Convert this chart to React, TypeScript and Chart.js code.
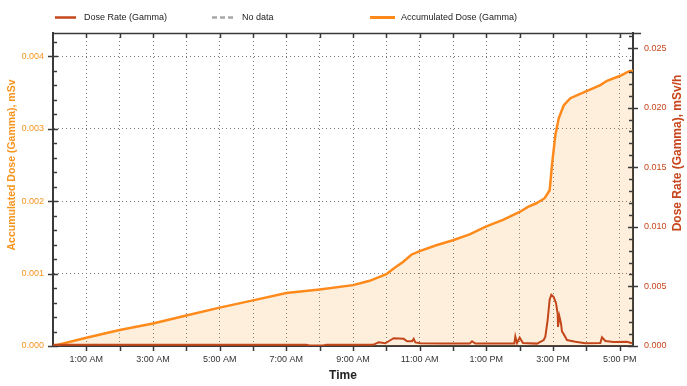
import { useEffect, useRef } from "react";
import { Chart, registerables } from "chart.js";
Chart.register(...registerables);

// Accumulated dose (Gamma), mSv — hours after midnight
const accumHours = [0, 1, 2, 3, 4, 5, 6, 7, 8, 9, 9.33, 9.5, 10, 10.25, 10.5, 10.75, 11, 11.5, 12, 12.5, 13, 13.5, 14, 14.25, 14.5, 14.75, 14.9, 14.97, 15.07, 15.17, 15.32, 15.52, 15.92, 16.42, 16.62, 17.02, 17.27, 17.4];
const accumValues = [0, 0.000115, 0.00022, 0.00031, 0.00042, 0.00053, 0.00063, 0.00073, 0.00078, 0.00084, 0.00088, 0.0009, 0.00099, 0.00108, 0.00116, 0.00126, 0.00131, 0.00139, 0.00146, 0.00154, 0.00165, 0.00174, 0.00185, 0.00192, 0.00197, 0.00204, 0.00215, 0.0025, 0.00291, 0.00314, 0.00332, 0.00342, 0.0035, 0.0036, 0.00366, 0.00373, 0.00379, 0.0038];

// Dose rate (Gamma), mSv/h
const rateHours = [0, 2, 4, 6, 7.6, 7.7, 8.1, 8.2, 9.6, 9.77, 9.97, 10.07, 10.22, 10.52, 10.62, 10.77, 10.82, 10.87, 11.02, 11.72, 12.5, 12.57, 12.67, 13.84, 13.87, 13.92, 14.0, 14.1, 14.52, 14.72, 14.77, 14.84, 14.9, 14.95, 15.02, 15.09, 15.14, 15.15, 15.19, 15.24, 15.27, 15.3, 15.42, 15.67, 15.97, 16.42, 16.47, 16.57, 16.82, 17.22, 17.37];
const rateValues = [0.0001, 0.0001, 0.0001, 0.0001, 0.0001, 0.00005, 0.00005, 0.0001, 0.0001, 0.00031, 0.00023, 0.0004, 0.00065, 0.0006, 0.0004, 0.0004, 0.0006, 0.0003, 0.00023, 0.00022, 0.0002, 0.0004, 0.0002, 0.0002, 0.0008, 0.00025, 0.0007, 0.00025, 0.0002, 0.0005, 0.00078, 0.0022, 0.0039, 0.0043, 0.0041, 0.0036, 0.0027, 0.0016, 0.0025, 0.0019, 0.0012, 0.0011, 0.0005, 0.00036, 0.00023, 0.00025, 0.00073, 0.00042, 0.00034, 0.00036, 0.00023];

const xLabelHours = [1, 3, 5, 7, 9, 11, 13, 15, 17];
const xLabels = ["1:00 AM", "3:00 AM", "5:00 AM", "7:00 AM", "9:00 AM", "11:00 AM", "1:00 PM", "3:00 PM", "5:00 PM"];

const legendLabels = ["Dose Rate (Gamma)", "No data", "Accumulated Dose (Gamma)"];
const leftTitle = "Accumulated Dose (Gamma), mSv";
const rightTitle = "Dose Rate (Gamma), mSv/h";
const xTitle = "Time";

const ORANGE = "#ff8a1c";
const RATE = "#c4471b";
const LEFT_TXT = "#f7941d";
const RIGHT_TXT = "#c8461e";
const AXIS = "#3a3a3a";
const GRID = "#7a7a7a";
const FONT = "'Liberation Sans', Arial, sans-serif";

const isMult = (v: number, step: number) => Math.abs(v / step - Math.round(v / step)) < 1e-6;

const decoPlugin = {
  id: "deco",
  afterDraw(chart: any) {
    const { ctx, chartArea: a, scales } = chart;
    ctx.save();
    const ln = (x1: number, y1: number, x2: number, y2: number, w = 1) => {
      ctx.lineWidth = w;
      ctx.beginPath();
      ctx.moveTo(x1, y1);
      ctx.lineTo(x2, y2);
      ctx.stroke();
    };
    ctx.strokeStyle = AXIS;
    ln(a.left, a.top + 0.5, a.right + 8, a.top + 0.5, 1.5);
    scales.x.ticks.forEach((t: any) => {
      const px = Math.round(scales.x.getPixelForValue(t.value)) + 0.5;
      if (t.value <= 0) return;
      ln(px, a.bottom, px, a.bottom + 5, 1.5);
      ln(px, a.top, px, a.top + 5, 1.5);
    });
    scales.y.ticks.forEach((t: any) => {
      const py = Math.round(scales.y.getPixelForValue(t.value)) + 0.5;
      if (isMult(t.value, 0.001)) ln(a.left - 5, py, a.left + 5, py, 1.5);
      else ln(a.left, py, a.left + 4, py, 1.5);
    });
    scales.y1.ticks.forEach((t: any) => {
      const py = Math.round(scales.y1.getPixelForValue(t.value)) + 0.5;
      if (isMult(t.value, 0.005)) ln(a.right - 5, py, a.right + 5, py, 1.5);
      else ln(a.right - 4, py, a.right, py, 1.5);
    });

    // legend
    const ly = 17.5;
    ctx.font = `9px ${FONT}`;
    ctx.textBaseline = "middle";
    ctx.fillStyle = "#222";
    ctx.strokeStyle = RATE;
    ln(55, ly, 76, ly, 2.5);
    ctx.fillText(legendLabels[0], 84, ly);
    ctx.strokeStyle = "#a8a8a8";
    ctx.setLineDash([5, 3]);
    ln(212, ly, 236, ly, 2.5);
    ctx.setLineDash([]);
    ctx.fillText(legendLabels[1], 242, ly);
    ctx.strokeStyle = ORANGE;
    ln(370, ly, 395, ly, 3);
    ctx.fillText(legendLabels[2], 401, ly);

    // y titles
    ctx.textAlign = "center";
    ctx.save();
    ctx.translate(12, 165);
    ctx.rotate(-Math.PI / 2);
    ctx.font = `bold 10.5px ${FONT}`;
    ctx.fillStyle = LEFT_TXT;
    ctx.fillText(leftTitle, 0, 0);
    ctx.restore();
    ctx.save();
    ctx.translate(678, 153);
    ctx.rotate(-Math.PI / 2);
    ctx.font = `bold 12px ${FONT}`;
    ctx.fillStyle = RIGHT_TXT;
    ctx.fillText(rightTitle, 0, 0);
    ctx.restore();
    ctx.restore();
  },
};

export default function App() {
  const ref = useRef<HTMLCanvasElement>(null);
  useEffect(() => {
    document.body.style.margin = "0";
    const accum = accumHours.map((h, i) => ({ x: h, y: accumValues[i] }));
    const rate = rateHours.map((h, i) => ({ x: h, y: rateValues[i] }));
    const chart = new Chart(ref.current!, {
      type: "line",
      data: {
        datasets: [
          {
            label: legendLabels[0],
            data: rate,
            yAxisID: "y1",
            borderColor: RATE,
            borderWidth: 2,
            pointRadius: 0,
            tension: 0,
            fill: false,
          },
          {
            label: legendLabels[2],
            data: accum,
            yAxisID: "y",
            borderColor: ORANGE,
            borderWidth: 2.5,
            backgroundColor: "rgba(247,148,29,0.15)",
            pointRadius: 0,
            tension: 0,
            fill: "origin",
          },
        ],
      },
      options: {
        animation: false,
        responsive: false,
        layout: { padding: { top: 33, left: 0, right: 0, bottom: 0 } },
        plugins: { legend: { display: false }, tooltip: { enabled: false } },
        scales: {
          x: {
            type: "linear",
            min: 0,
            max: 17.4,
            afterFit: (s: any) => { s.height = 40; },
            ticks: {
              stepSize: 1,
              includeBounds: false,
              autoSkip: false,
              maxRotation: 0,
              padding: 8,
              color: "#333",
              font: { family: FONT, size: 9 },
              callback: (v: any) => {
                const i = xLabelHours.indexOf(Number(v));
                return i >= 0 ? xLabels[i] : "";
              },
            },
            grid: {
              drawTicks: false,
              color: (c: any) => (c.tick && c.tick.value > 0 ? GRID : "rgba(0,0,0,0)"),
              lineWidth: 1,
            },
            border: { color: AXIS, width: 2, dash: [1, 3] },
            title: {
              display: true,
              text: xTitle,
              color: "#222",
              font: { family: FONT, size: 12, weight: "bold" },
              padding: { top: 0, bottom: 3 },
            },
          },
          y: {
            type: "linear",
            position: "left",
            min: 0,
            max: 0.00432,
            afterFit: (s: any) => { s.width = 53; },
            ticks: {
              stepSize: 0.0002,
              includeBounds: false,
              autoSkip: false,
              padding: 9,
              color: LEFT_TXT,
              font: { family: FONT, size: 9 },
              callback: (v: any) => (isMult(Number(v), 0.001) ? Number(v).toFixed(3) : ""),
            },
            grid: {
              drawTicks: false,
              color: (c: any) => (c.tick && c.tick.value > 0 && isMult(c.tick.value, 0.001) ? GRID : "rgba(0,0,0,0)"),
              lineWidth: 1,
            },
            border: { color: AXIS, width: 2, dash: [1, 3] },
          },
          y1: {
            type: "linear",
            position: "right",
            min: 0,
            max: 0.02626,
            afterFit: (s: any) => { s.width = 54; },
            ticks: {
              stepSize: 0.001,
              includeBounds: false,
              autoSkip: false,
              padding: 11,
              color: RIGHT_TXT,
              font: { family: FONT, size: 9 },
              callback: (v: any) => (isMult(Number(v), 0.005) ? Number(v).toFixed(3) : ""),
            },
            grid: { drawTicks: false, drawOnChartArea: false },
            border: { color: AXIS, width: 2 },
          },
        },
      },
      plugins: [decoPlugin],
    } as any);
    return () => chart.destroy();
  }, []);
  return <canvas ref={ref} width={687} height={386} style={{ display: "block" }} />;
}
